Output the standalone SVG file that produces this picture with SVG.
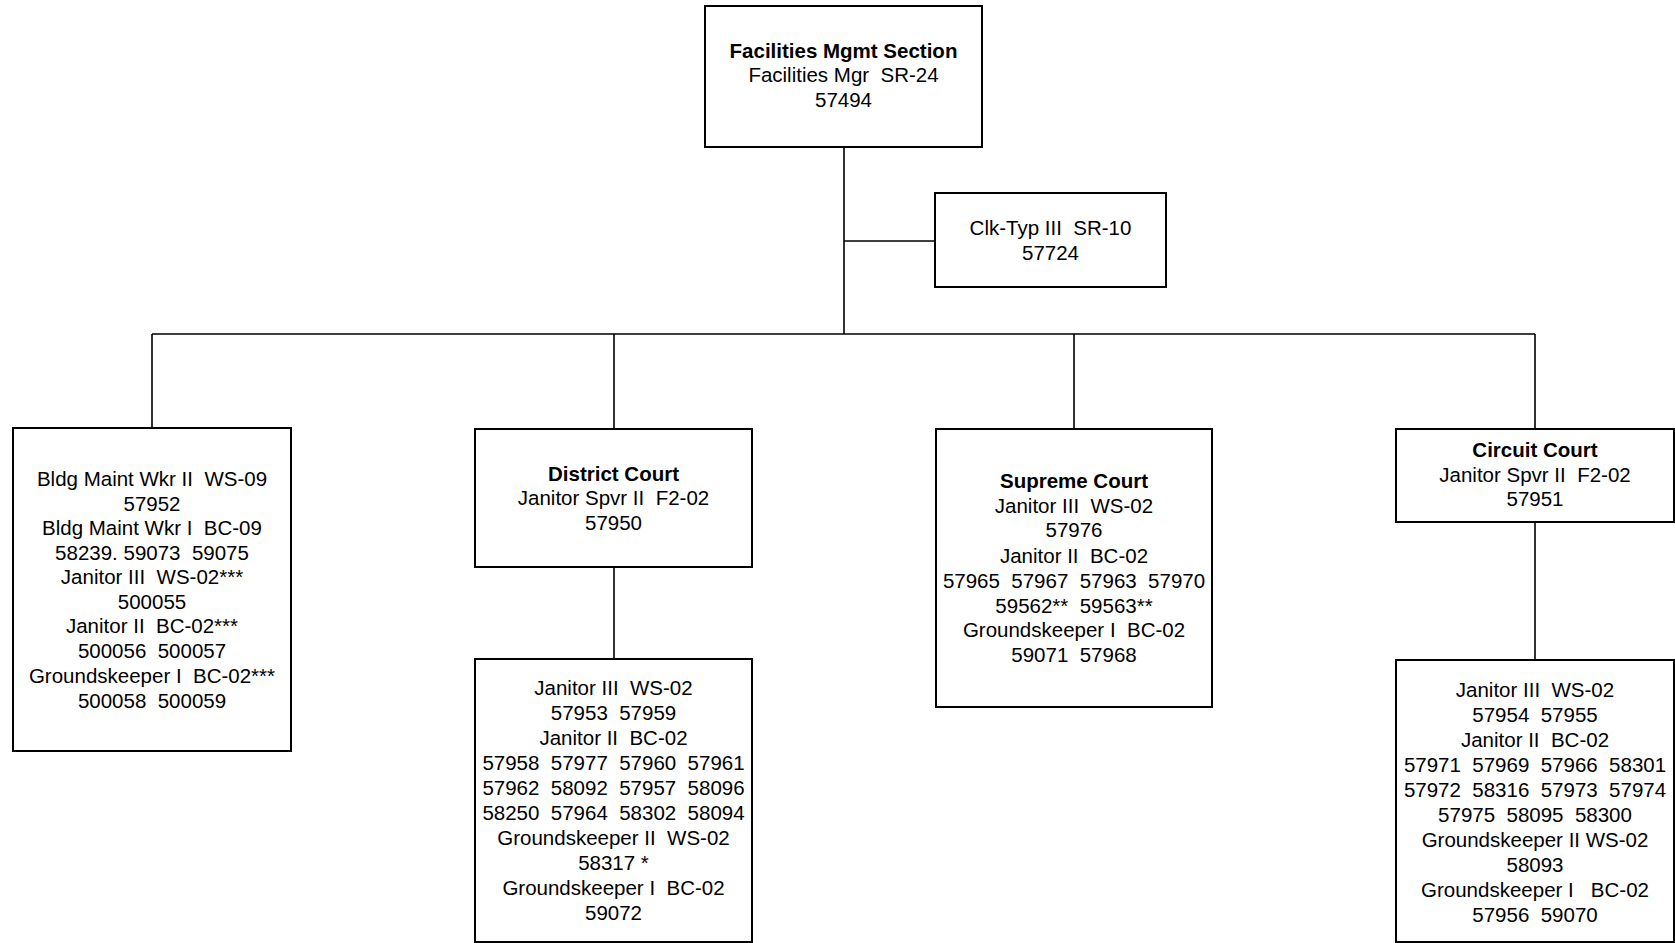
<svg xmlns="http://www.w3.org/2000/svg" width="1675" height="943" viewBox="0 0 1675 943">
<style>
.box{fill:#fff;stroke:#000;stroke-width:2}
.ln{stroke:#000;stroke-width:1.6;fill:none}
text{font-family:"Liberation Sans",Arial,sans-serif;font-size:20.5px;fill:#000;text-anchor:middle;white-space:pre}
.b{font-weight:bold}
</style>
<rect width="1675" height="943" fill="#fff"/>
<g id="connectors">
<path class="ln" d="M844 147V334M844 241H935M152 334H1535M152 334V428M614 334V429M1074 334V429M1535 334V429M614 567V659M1535 522V660"/>
</g>
<g id="n-top">
<rect class="box" x="705" y="6" width="277" height="141"/>
<text x="843.5" y="58" class="b">Facilities Mgmt Section</text>
<text x="843.5" y="82">Facilities Mgr  SR-24</text>
<text x="843.5" y="107">57494</text>
</g>
<g id="n-clk">
<rect class="box" x="935" y="193" width="231" height="94"/>
<text x="1050.5" y="235">Clk-Typ III  SR-10</text>
<text x="1050.5" y="260">57724</text>
</g>
<g id="n-bldg">
<rect class="box" x="13" y="428" width="278" height="323"/>
<text x="152" y="486">Bldg Maint Wkr II  WS-09</text>
<text x="152" y="511">57952</text>
<text x="152" y="535">Bldg Maint Wkr I  BC-09</text>
<text x="152" y="560">58239. 59073  59075</text>
<text x="152" y="584">Janitor III  WS-02***</text>
<text x="152" y="609">500055</text>
<text x="152" y="633">Janitor II  BC-02***</text>
<text x="152" y="658">500056  500057</text>
<text x="152" y="683">Groundskeeper I  BC-02***</text>
<text x="152" y="708">500058  500059</text>
</g>
<g id="n-district">
<rect class="box" x="475" y="429" width="277" height="138"/>
<text x="613.5" y="481" class="b">District Court</text>
<text x="613.5" y="505">Janitor Spvr II  F2-02</text>
<text x="613.5" y="530">57950</text>
</g>
<g id="n-district-staff">
<rect class="box" x="475" y="659" width="277" height="283"/>
<text x="613.5" y="695">Janitor III  WS-02</text>
<text x="613.5" y="720">57953  57959</text>
<text x="613.5" y="745">Janitor II  BC-02</text>
<text x="613.5" y="770">57958  57977  57960  57961</text>
<text x="613.5" y="795">57962  58092  57957  58096</text>
<text x="613.5" y="820">58250  57964  58302  58094</text>
<text x="613.5" y="845">Groundskeeper II  WS-02</text>
<text x="613.5" y="870">58317 *</text>
<text x="613.5" y="895">Groundskeeper I  BC-02</text>
<text x="613.5" y="920">59072</text>
</g>
<g id="n-supreme">
<rect class="box" x="936" y="429" width="276" height="278"/>
<text x="1074" y="488" class="b">Supreme Court</text>
<text x="1074" y="513">Janitor III  WS-02</text>
<text x="1074" y="537">57976</text>
<text x="1074" y="563">Janitor II  BC-02</text>
<text x="1074" y="588">57965  57967  57963  57970</text>
<text x="1074" y="613">59562**  59563**</text>
<text x="1074" y="637">Groundskeeper I  BC-02</text>
<text x="1074" y="662">59071  57968</text>
</g>
<g id="n-circuit">
<rect class="box" x="1396" y="429" width="278" height="93"/>
<text x="1535" y="457" class="b">Circuit Court</text>
<text x="1535" y="482">Janitor Spvr II  F2-02</text>
<text x="1535" y="506">57951</text>
</g>
<g id="n-circuit-staff">
<rect class="box" x="1396" y="660" width="278" height="282"/>
<text x="1535" y="697">Janitor III  WS-02</text>
<text x="1535" y="722">57954  57955</text>
<text x="1535" y="747">Janitor II  BC-02</text>
<text x="1535" y="772">57971  57969  57966  58301</text>
<text x="1535" y="797">57972  58316  57973  57974</text>
<text x="1535" y="822">57975  58095  58300</text>
<text x="1535" y="847">Groundskeeper II WS-02</text>
<text x="1535" y="872">58093</text>
<text x="1535" y="897">Groundskeeper I   BC-02</text>
<text x="1535" y="922">57956  59070</text>
</g>
</svg>
